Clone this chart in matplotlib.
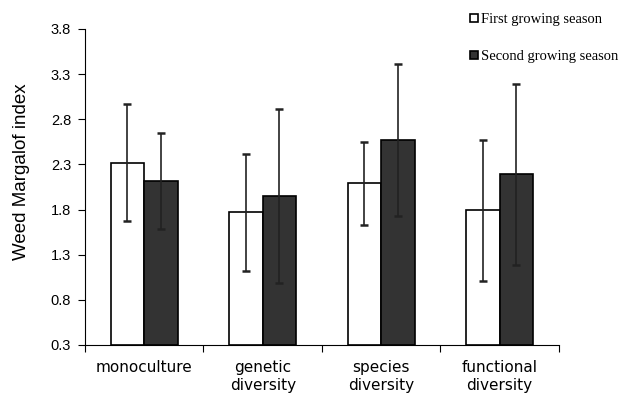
import matplotlib.pyplot as plt
from matplotlib.lines import Line2D
import numpy as np

categories = ["monoculture", "genetic\ndiversity", "species\ndiversity", "functional\ndiversity"]
first_season = [2.32, 1.77, 2.09, 1.79]
first_err = [0.65, 0.65, 0.46, 0.78]
second_season = [2.12, 1.95, 2.57, 2.19]
second_err = [0.53, 0.96, 0.84, 1.0]
yticks = [0.3, 0.8, 1.3, 1.8, 2.3, 2.8, 3.3, 3.8]

fig = plt.figure(figsize=(6.26, 3.96), dpi=100)
ax = fig.add_axes([0.1358, 0.1288, 0.757, 0.798])

x = np.arange(len(categories))
w = 0.283
base = yticks[0]
ax.bar(x - w / 2, np.array(first_season) - base, w, bottom=base, color="white",
       edgecolor="black", linewidth=1.2, zorder=2)
ax.bar(x + w / 2, np.array(second_season) - base, w, bottom=base, color="#333333",
       edgecolor="black", linewidth=1.2, zorder=2)
ax.errorbar(x - w / 2, first_season, yerr=first_err, fmt="none", ecolor="#222222",
            elinewidth=1.2, capsize=3.2, capthick=1.8, zorder=3)
ax.errorbar(x + w / 2, second_season, yerr=second_err, fmt="none", ecolor="#222222",
            elinewidth=1.2, capsize=3.2, capthick=1.8, zorder=3)

ax.set_xlim(-0.5, len(categories) - 0.5)
ax.set_ylim(yticks[0], yticks[-1])
ax.set_yticks(yticks)
ax.set_yticklabels([f"{v:.1f}" for v in yticks], family="Liberation Sans", fontsize=10.5)
ax.set_xticks(np.arange(len(categories) + 1) - 0.5)
ax.set_xticklabels([])
ax.set_xticks(x, minor=True)
ax.set_xticklabels(categories, minor=True, family="DejaVu Sans", fontsize=11,
                   linespacing=1.2)
ax.tick_params(axis="x", which="minor", length=0, pad=11)
ax.tick_params(axis="x", which="major", length=5, direction="out")
ax.tick_params(axis="y", length=5, direction="out", pad=5)
ax.spines["top"].set_visible(False)
ax.spines["right"].set_visible(False)
ax.set_ylabel("Weed Margalof index", family="Liberation Sans", fontsize=13.5)
ax.yaxis.set_label_coords(-0.117, 0.547)

handles = [
    Line2D([], [], marker="s", linestyle="none", markersize=6, markerfacecolor="white",
           markeredgecolor="black", markeredgewidth=1.2),
    Line2D([], [], marker="s", linestyle="none", markersize=6, markerfacecolor="#333333",
           markeredgecolor="black", markeredgewidth=1.2),
]
fig.legend(handles, ["First growing season", "Second growing season"],
           loc="upper left", bbox_to_anchor=(0.734, 0.993), frameon=False,
           prop={"family": "Liberation Serif", "size": 10.5},
           handlelength=0.6, handletextpad=0.2, labelspacing=1.65, borderaxespad=0.3)

fig.savefig("out.png", dpi=100)
